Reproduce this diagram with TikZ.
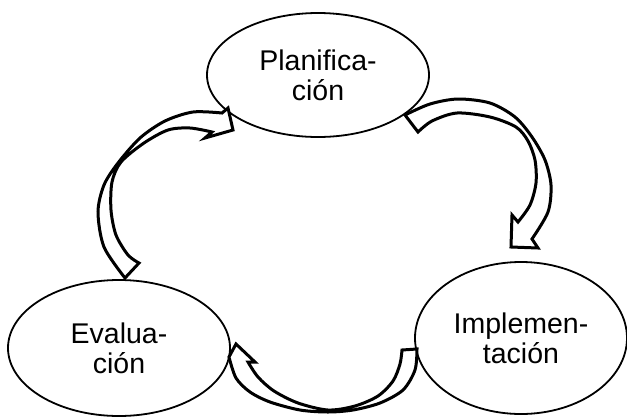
\documentclass[tikz,border=0pt]{standalone}
\usepackage{fontspec}
\setmainfont{Liberation Sans}
\usetikzlibrary{shapes.geometric}
\begin{document}
\begin{tikzpicture}[x=1pt,y=-1pt,
  phase/.style={draw,ellipse,line width=1.8pt,inner sep=0pt,align=center,
    font=\fontsize{28.5}{30}\selectfont},
  blockarrow/.style={draw,fill=white,line width=3pt,line join=miter}]
\useasboundingbox (0,0) rectangle (627,416);
\node[phase,minimum width=222pt,minimum height=124pt] (plan) at (318,75) {Planifica-\\ción};
\node[phase,minimum width=222pt,minimum height=136pt] (eval) at (119,348) {Evalua-\\ción};
\node[phase,minimum width=212pt,minimum height=152pt] (impl) at (521,338) {Implemen-\\tación};
% Evaluacion -> Planificacion
\draw[blockarrow] (139,263) -- (125,278)
  -- plot[smooth] coordinates {(125,278) (104,247) (98,212) (104,185) (118,163) (140,138) (165,121) (193,112) (222,113)}
  -- (228,108) -- (233,130) -- (205,138) -- (212,132)
  -- plot[smooth] coordinates {(212,132) (190,128) (168,130) (144,143) (121,162) (112,182) (111,210) (116,235) (128,255) (139,263)}
  -- cycle;
% Planificacion -> Implementacion
\draw[blockarrow] (418,132) -- (405,115)
  -- plot[smooth] coordinates {(405,115) (430,104) (458,99) (490,103) (515,117) (532,137) (545,160) (551,185) (548,212) (532,239)}
  -- (538,248) -- (511,247) -- (512,215) -- (518,222)
  -- plot[smooth] coordinates {(518,222) (530,205) (536,183) (535,160) (528,141) (516,127) (490,117) (457,113) (432,121) (418,132)}
  -- cycle;
% Implementacion -> Evaluacion
\draw[blockarrow] (402,350) -- (417,349)
  -- plot[smooth] coordinates {(417,349) (415,370) (403,390) (380,403) (353,410) (328,412) (300,410) (270,402) (250,392) (236,378) (229,357)}
  -- (236,344) -- (255,362) -- (248,362)
  -- plot[smooth] coordinates {(248,362) (258,377) (274,391) (298,403) (328,410) (355,406) (378,396) (393,381) (400,364) (402,350)}
  -- cycle;
\end{tikzpicture}
\end{document}
